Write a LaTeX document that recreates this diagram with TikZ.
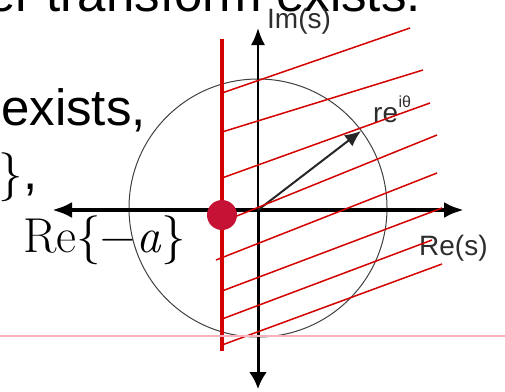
\documentclass[tikz,border=0pt]{standalone}
\usepackage{fontspec}
\newfontfamily\slidefont{Liberation Sans}
\usetikzlibrary{arrows.meta}
\definecolor{hatchred}{RGB}{212,0,0}
\definecolor{dotred}{RGB}{198,18,52}
\definecolor{pinkline}{RGB}{246,176,190}
\definecolor{labelgray}{RGB}{45,45,45}
\begin{document}
\begin{tikzpicture}[x=1pt,y=-1pt,
  axis/.style={line width=4pt,{Latex[length=20pt,width=16pt]}-{Latex[length=20pt,width=16pt]}},
  hatch/.style={draw=hatchred,line width=1.5pt},
  plane/.style={text=labelgray,font=\slidefont\fontsize{28}{30}\selectfont,inner sep=0pt,anchor=base west},
  slide/.style={font=\slidefont\fontsize{51}{56}\selectfont,inner sep=0pt},
  formula/.style={font=\fontsize{49}{54}\selectfont,inner sep=0pt,anchor=base west}]
  \useasboundingbox (0,0) rectangle (505,391);
  % slide text around the figure
  \node[slide,anchor=base east] (title) at (421,11) {Fourier transform exists.};
  \node[slide,anchor=base west] (exists) at (1,125) {exists,};
  \node[formula] (brace) at (-2,189) {\}};
  \node[slide,anchor=base west] (comma) at (brace.base east) {,};
  \node[formula] (region) at (23,252) {Re\{−\textit{a}\}};
  % s-plane
  \coordinate (O) at (258,210);
  \coordinate (C) at (258,208);
  \coordinate (xl) at (52,210);
  \coordinate (xr) at (464,210);
  \coordinate (yt) at (258,28);
  \coordinate (yb) at (258,389);
  \coordinate (P) at (361,131);
  \draw[black!75,line width=1pt] (C) circle[radius=129];
  \draw[line width=2pt,-{Latex[length=17pt,width=14pt]}] (O) -- (yt);
  \draw[line width=3pt,-{Latex[length=17pt,width=18pt]}] (O) -- (yb);
  \draw[axis] (xl) -- (xr);
  \draw[black!85,line width=2pt,-{Latex[length=16pt,width=14pt]}] (O) -- (P);
  \node[plane] (im) at (267,28) {Im(s)};
  \node[plane] (re) at (419,255) {Re(s)};
  \node[plane] (reiphi) at (373,122) {re};
  \node[plane,font=\slidefont\fontsize{16}{18}\selectfont,yshift=15pt] (expo) at (reiphi.base east) {iθ};
  % region of convergence
  \foreach \sx/\sy/\ex/\ey in {222/93/410/28, 222/132/423/70, 222/178/430/103, 222/222/437/135,
    216/260/437/173, 222/291/442/208, 222/319/432/240, 222/345/442/264}
    \draw[hatch] (\sx,\sy) -- (\ex,\ey);
  \coordinate (rt) at (222,39);
  \coordinate (rb) at (222,351);
  \draw[hatchred,line width=4.5pt] (rt) -- (rb);
  \node[circle,fill=dotred,minimum size=30pt,inner sep=0pt] (pole) at (222,215) {};
  \draw[pinkline,line width=1.5pt] (0,336) -- (505,336);
\end{tikzpicture}
\end{document}
